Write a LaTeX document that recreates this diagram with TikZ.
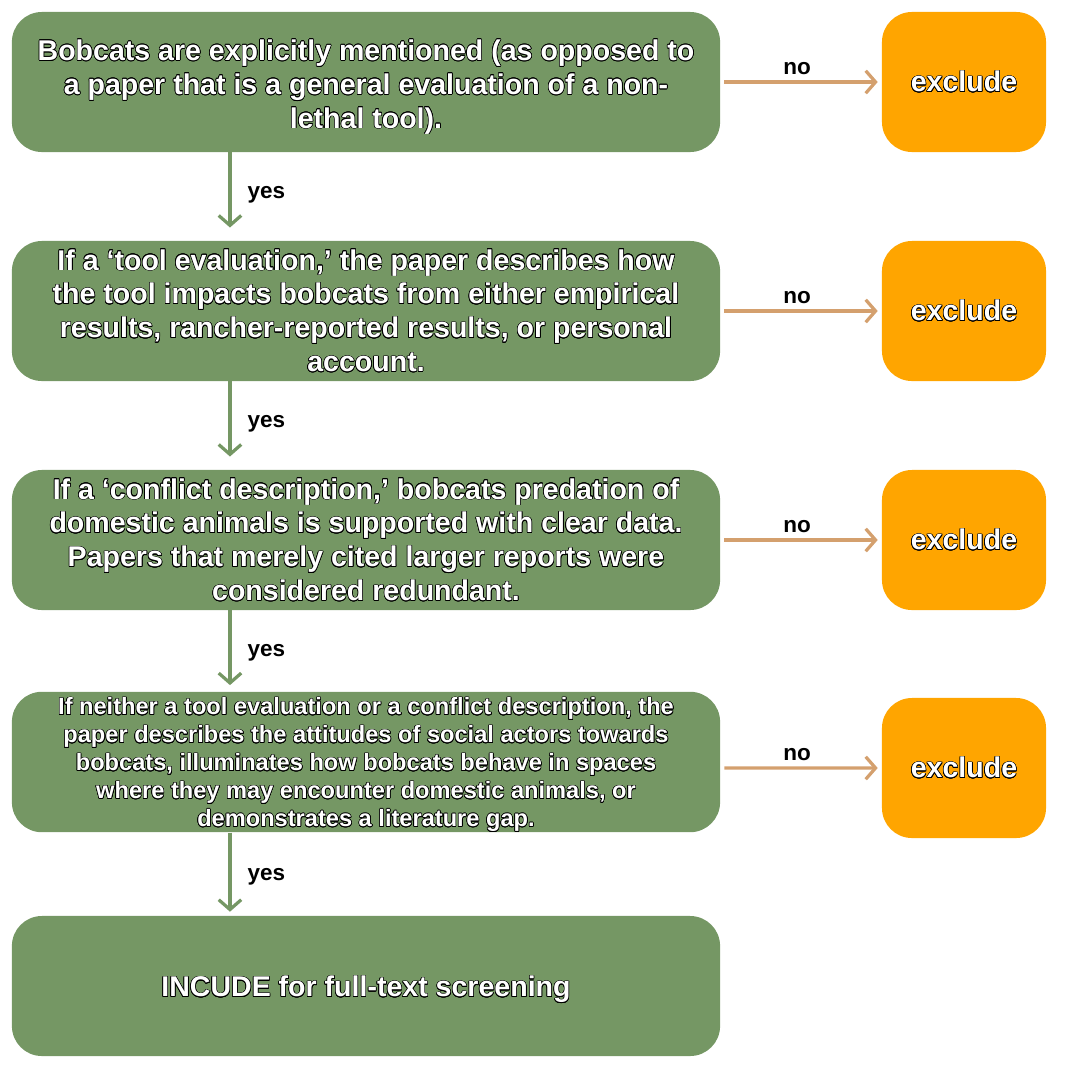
\documentclass[tikz,border=0pt]{standalone}
\usepackage{fontspec}
\setmainfont{Liberation Sans}
\usepackage{contour}
\contourlength{0.45pt}
\usetikzlibrary{arrows.meta}
\definecolor{sage}{HTML}{759764}
\definecolor{amber}{HTML}{FFA500}
\definecolor{tan}{HTML}{D4A06E}
\newcommand{\ol}[1]{\contour{black}{#1}}
% first line a little taller, so the block sits lower in its box
\newcommand{\lead}{\rule{0pt}{1em}}

\begin{document}
\begin{tikzpicture}[x=0.025cm, y=-0.025cm,
		crit/.style={fill=sage, rounded corners=0.75cm, minimum width=17.7cm, minimum height=3.5cm, inner ysep=0pt, align=center, text=white, font=\bfseries\fontsize{20.3}{24.1}\selectfont},
		outbox/.style={fill=amber, rounded corners=0.75cm, minimum width=4.1cm, minimum height=3.5cm, text=white, font=\bfseries\fontsize{20.3}{24}\selectfont},
		yesarrow/.style={draw=sage, line width=2.3pt, -{Straight Barb[length=7pt,width=16pt]}},
		noarrow/.style={draw=tan, line width=2.3pt, -{Straight Barb[length=7pt,width=16pt]}},
		lbl/.style={font=\bfseries\fontsize{16}{19}\selectfont, inner sep=0pt}]
			\useasboundingbox (0,0) rectangle (1080,1080);
			% criteria
			\node[crit] (g1) at (366,82) {\rule{0pt}{1.1em}\ol{Bobcats are explicitly mentioned (as opposed to}\\\ol{a paper that is a general evaluation of a non-}\\\ol{lethal tool).}};
			\node[crit] (g2) at (366,311) {\ol{If a `tool evaluation,' the paper describes how}\\\ol{the tool impacts bobcats from either empirical}\\\ol{results, rancher-reported results, or personal}\\\ol{account.}};
			\node[crit] (g3) at (366,540) {\ol{If a `conflict description,' bobcats predation of}\\\ol{domestic animals is supported with clear data.}\\\ol{Papers that merely cited larger reports were}\\\ol{considered redundant.}};
			\node[crit, font=\bfseries\fontsize{16.8}{19.85}\selectfont] (g4) at (366,762) {\rule{0pt}{0.98em}\ol{If neither a tool evaluation or a conflict description, the}\\\ol{paper describes the attitudes of social actors towards}\\\ol{bobcats, illuminates how bobcats behave in spaces}\\\ol{where they may encounter domestic animals, or}\\\ol{demonstrates a literature gap.}};
			\node[crit] (g5) at (366,986) {\lead\ol{INCUDE for full-text screening}};
			% exclusions
			\node[outbox] (o1) at (964,82) {\ol{exclude}};
			\node[outbox] (o2) at (964,311) {\ol{exclude}};
			\node[outbox] (o3) at (964,540) {\ol{exclude}};
			\node[outbox] (o4) at (964,768) {\ol{exclude}};
			% yes
			\draw[yesarrow] ([xshift=-3.4cm]g1.south) -- ([xshift=-3.4cm,yshift=0.33cm]g2.north) node[midway,lbl,anchor=west,xshift=0.4cm,yshift=-0.12cm]{yes};
			\draw[yesarrow] ([xshift=-3.4cm]g2.south) -- ([xshift=-3.4cm,yshift=0.33cm]g3.north) node[midway,lbl,anchor=west,xshift=0.4cm,yshift=-0.12cm]{yes};
			\draw[yesarrow] ([xshift=-3.4cm]g3.south) -- ([xshift=-3.4cm,yshift=0.16cm]g4.north) node[midway,lbl,anchor=west,xshift=0.4cm,yshift=-0.12cm]{yes};
			\draw[yesarrow] ([xshift=-3.4cm]g4.south) -- ([xshift=-3.4cm,yshift=0.1cm]g5.north) node[midway,lbl,anchor=west,xshift=0.4cm,yshift=-0.12cm]{yes};
			% no
			\draw[noarrow] ([xshift=0.1cm]g1.east) -- ([xshift=-0.1cm]o1.west) node[midway,lbl,above=0.15cm,xshift=-0.1cm]{no};
			\draw[noarrow] ([xshift=0.1cm]g2.east) -- ([xshift=-0.1cm]o2.west) node[midway,lbl,above=0.15cm,xshift=-0.1cm]{no};
			\draw[noarrow] ([xshift=0.1cm]g3.east) -- ([xshift=-0.1cm]o3.west) node[midway,lbl,above=0.15cm,xshift=-0.1cm]{no};
			\draw[noarrow] ([xshift=0.1cm,yshift=-0.15cm]g4.east) -- ([xshift=-0.1cm]o4.west) node[midway,lbl,above=0.15cm,xshift=-0.1cm]{no};
		\end{tikzpicture}
\end{document}
